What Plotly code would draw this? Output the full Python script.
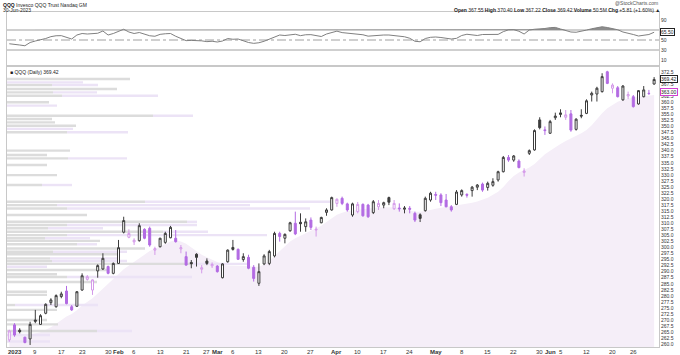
import plotly.graph_objects as go
import pandas as pd

# ---------------- data ----------------
holidays = ['2023-01-02', '2023-01-16', '2023-02-20', '2023-04-07', '2023-05-29', '2023-06-19']
dates = pd.bdate_range('2022-12-30', '2023-06-30', freq='C', holidays=holidays)
date_str = [d.strftime('%Y-%m-%d') for d in dates]

opens = [261.8, 268.0, 265.8, 262.9, 262.2, 270.0, 268.2, 272.8, 277.2, 275.5,
         279.7, 282.0, 275.5, 275.7, 282.4, 286.8, 282.4, 290.3, 291.1, 292.1,
         289.3, 293.4, 306.3, 304.2, 302.3, 302.8, 307.5, 307.9, 298.9, 300.3,
         302.1, 304.0, 303.8, 299.4, 296.2, 293.8, 297.2, 291.0, 294.4, 292.4,
         292.3, 287.5, 294.1, 300.0, 299.2, 295.0, 295.9, 291.8, 285.2, 293.2,
         293.4, 296.5, 305.8, 303.8, 306.9, 310.0, 310.4, 308.6, 311.3, 307.2,
         310.2, 314.5, 315.5, 318.2, 320.3, 318.0, 313.4, 314.8, 317.8, 317.5,
         314.4, 316.8, 317.5, 320.6, 316.0, 316.3, 315.8, 316.2, 314.1, 313.5,
         315.2, 319.6, 321.9, 321.7, 319.6, 316.8, 317.8, 321.7, 321.9, 323.5,
         324.9, 326.2, 324.8, 325.7, 327.9, 331.3, 337.2, 336.1, 335.7, 331.0,
         338.9, 340.3, 352.7, 348.6, 347.2, 353.6, 355.6, 353.8, 355.2, 348.8,
         354.6, 355.4, 363.0, 363.4, 364.4, 372.6, 365.8, 366.0, 361.0, 362.6,
         362.3, 359.3, 362.3, 363.7, 367.55]
highs = [266.0, 268.7, 266.6, 263.1, 269.3, 274.2, 272.4, 276.9, 279.0, 280.6,
         281.7, 284.1, 276.2, 282.0, 289.3, 288.6, 286.8, 293.0, 297.6, 292.5,
         293.8, 303.1, 312.7, 307.5, 303.8, 310.0, 307.9, 308.6, 300.3, 304.0,
         306.5, 308.9, 307.2, 301.0, 298.3, 294.8, 297.6, 292.7, 295.5, 293.8,
         292.7, 293.5, 299.2, 303.1, 299.6, 297.6, 297.0, 292.7, 293.4, 297.2,
         299.0, 306.5, 306.5, 305.8, 310.6, 314.8, 314.1, 312.0, 312.4, 308.6,
         312.7, 316.2, 321.0, 320.3, 321.0, 318.5, 318.5, 318.8, 318.2, 318.0,
         319.6, 319.6, 318.9, 321.0, 319.6, 318.2, 317.1, 317.1, 314.8, 314.1,
         321.0, 323.0, 323.0, 322.4, 322.1, 317.5, 323.7, 324.0, 322.4, 325.4,
         326.2, 326.8, 327.2, 328.6, 331.7, 337.8, 338.2, 338.2, 336.4, 332.7,
         340.5, 348.8, 353.8, 350.0, 352.7, 355.7, 357.1, 356.8, 356.8, 353.4,
         357.1, 361.2, 364.4, 366.4, 372.0, 373.0, 367.8, 366.7, 367.1, 364.4,
         363.0, 365.0, 366.7, 365.1, 370.40]
lows = [261.0, 263.1, 264.5, 260.4, 259.7, 268.7, 268.0, 272.4, 276.2, 275.1,
        279.0, 276.5, 273.8, 275.4, 282.1, 286.3, 280.4, 287.5, 290.7, 288.9,
        288.9, 293.2, 305.8, 303.8, 301.0, 302.4, 303.4, 300.3, 296.9, 300.0,
        301.5, 303.8, 302.0, 297.6, 292.5, 291.4, 292.1, 289.3, 292.7, 291.5,
        289.6, 287.2, 293.7, 298.7, 294.8, 294.1, 291.0, 285.9, 284.1, 292.7,
        292.7, 295.9, 302.4, 301.7, 306.5, 305.1, 306.5, 306.5, 307.2, 304.5,
        310.0, 313.1, 315.2, 316.8, 317.5, 314.8, 312.7, 314.1, 312.7, 312.2,
        313.8, 315.5, 316.2, 317.5, 315.5, 314.8, 314.1, 314.1, 310.5, 310.5,
        314.8, 318.9, 319.6, 317.1, 316.6, 314.8, 317.5, 321.0, 320.6, 321.0,
        323.7, 323.0, 323.5, 325.1, 327.2, 331.0, 335.4, 335.4, 332.7, 329.3,
        338.2, 340.0, 348.8, 346.5, 346.9, 352.7, 353.8, 352.7, 347.8, 348.3,
        353.4, 355.1, 360.3, 360.3, 364.0, 367.5, 363.7, 362.0, 360.6, 361.3,
        357.8, 359.0, 362.0, 363.0, 367.22]
closes = [265.5, 263.8, 265.2, 260.7, 268.2, 269.5, 271.8, 276.5, 278.3, 280.1,
          280.8, 276.8, 274.2, 281.7, 288.3, 287.9, 286.6, 292.5, 295.5, 289.3,
          293.4, 299.9, 311.1, 305.8, 303.0, 309.0, 303.8, 301.0, 299.5, 303.8,
          305.8, 308.3, 302.4, 299.9, 292.7, 293.3, 295.9, 291.6, 293.4, 293.0,
          290.0, 293.2, 298.9, 299.2, 295.1, 296.2, 291.4, 287.2, 290.0, 296.5,
          298.3, 305.8, 304.5, 305.4, 310.2, 305.6, 309.8, 310.6, 308.3, 307.5,
          312.4, 315.5, 320.6, 319.9, 318.2, 315.5, 318.0, 317.8, 313.1, 312.7,
          318.9, 318.2, 318.5, 318.7, 318.2, 316.0, 316.3, 315.8, 311.3, 312.0,
          320.3, 322.4, 321.6, 318.5, 316.8, 315.5, 322.9, 323.5, 321.6, 324.9,
          325.8, 323.7, 326.5, 327.2, 331.3, 337.2, 336.1, 337.8, 333.0, 331.6,
          340.0, 348.3, 349.5, 348.3, 352.0, 354.3, 355.0, 354.8, 348.5, 353.0,
          354.3, 360.6, 363.7, 365.8, 370.6, 367.8, 367.1, 362.3, 366.7, 363.2,
          358.2, 364.8, 365.1, 363.61, 369.42]
close_prior = 266.8          # close of the session before the first candle
last_volume = '50.5M'

# shaded average band (top edge of the light area)
avg_band = [265.5, 265, 264.5, 264, 264, 264.5, 265, 266, 267, 268.5,
            270, 271.5, 272.5, 274, 276, 277.5, 279, 281, 283, 285,
            287, 289, 291, 292.5, 294, 295.5, 297, 298.5, 299.5, 300.5,
            301.5, 302.5, 303, 302.5, 301.5, 300, 298.5, 297, 296, 295,
            294, 293, 292.5, 292.5, 292.5, 292.5, 292.3, 292, 292, 293,
            294.5, 296.5, 298.5, 300.5, 302.5, 303.8, 304.8, 305.7, 306.8, 308,
            309, 310.5, 312, 313.5, 314.3, 315, 315.3, 315.6, 316, 316.2,
            316.3, 316.5, 316.6, 316.8, 316.6, 316.3, 315.8, 315.3, 314.8, 314.8,
            315, 315.5, 316, 316.5, 316.8, 317, 317.3, 317.8, 318.2, 318.5,
            319, 319.7, 320.5, 321.8, 323, 325, 327.5, 329.5, 331, 332,
            333, 334.5, 336.5, 338.5, 340, 341.5, 342.8, 344, 345, 346,
            347.2, 348.5, 350.5, 353, 355.5, 357.5, 359, 360.2, 361, 361.5,
            362, 362.3, 362.5, 362.8, 363]

rsi = [42.5, 42, 40, 38.5, 45, 48, 50, 53, 56.7, 58.5,
       58.7, 55, 52, 60, 63, 62, 62, 63.5, 68, 60,
       63, 66.5, 71.5, 66, 63, 65, 61, 58.5, 57.5, 61.3,
       62.5, 63, 57.5, 53, 48.7, 49.2, 49, 48.3, 46.7, 47.5,
       46, 48, 53, 51.5, 52, 48, 45, 43.3, 44.5, 47.5,
       52, 56, 60, 59, 60.5, 61.5, 58.7, 60.5, 60.7, 58.5,
       57, 62, 65.5, 67.7, 64.8, 63.5, 63, 62.3, 60.5, 57.7,
       58.5, 60, 60, 60, 59, 58.1, 56.5, 53.5, 47.5, 46.5,
       53, 55.4, 56, 55, 53.5, 52, 53.3, 59, 61.5, 61,
       59, 61, 61, 60.8, 61.2, 66.7, 70.3, 70.6, 67.5, 62,
       70, 71.5, 72, 73, 74.7, 75.2, 72, 68.5, 66, 65.5,
       67, 69.8, 72.5, 74.5, 76.5, 75, 72.5, 70.5, 66, 64,
       61, 58, 60, 61, 65.5]

# volume-by-price bars (price level, up volume, down volume; relative units)
vbp_price = [369.6, 368.2, 367.1, 365.5, 364.1, 362.7, 360.0, 358.6, 354.4, 353.1,
             351.7, 350.3, 349.0, 347.6, 340.0, 338.2, 336.8, 334.1, 329.9, 325.8,
             318.9, 317.5, 316.1, 313.4, 310.6, 309.3, 307.9, 306.5, 305.1, 303.8,
             302.7, 301.3, 299.6, 298.2, 297.2, 295.5, 294.4, 293.2, 292.0, 290.7,
             288.9, 287.8, 285.7, 281.7, 280.4, 276.2, 274.2, 270.0, 268.2, 265.5,
             263.8, 261.1]
vbp_up = [123, 0, 45, 110, 46, 55, 42, 0, 146, 45,
          48, 69, 0, 60, 63, 40, 61, 40, 50, 35,
          138, 50, 60, 80, 180, 60, 41, 156, 60, 38,
          93, 70, 138, 46, 113, 43, 45, 186, 0, 100,
          50, 60, 90, 40, 40, 8, 50, 40, 51, 90,
          0, 0]
vbp_down = [0, 76, 46, 0, 44, 96, 0, 50, 40, 0,
            0, 0, 66, 61, 0, 0, 59, 0, 0, 30,
            185, 193, 243, 0, 10, 130, 55, 45, 200, 45,
            0, 20, 0, 74, 0, 70, 75, 57, 40, 0,
            0, 125, 0, 0, 0, 83, 0, 0, 0, 35,
            43, 43]

tick_dates = ['2023-01-03', '2023-01-09', '2023-01-17', '2023-01-23', '2023-01-30',
              '2023-02-01', '2023-02-06', '2023-02-13', '2023-02-21', '2023-02-27',
              '2023-03-01', '2023-03-06', '2023-03-13', '2023-03-20', '2023-03-27',
              '2023-04-03', '2023-04-10', '2023-04-17', '2023-04-24',
              '2023-05-01', '2023-05-08', '2023-05-15', '2023-05-22', '2023-05-30',
              '2023-06-01', '2023-06-05', '2023-06-12', '2023-06-20', '2023-06-26']
tick_labels = ['<b>2023</b>', '9', '17', '23', '30',
               '<b>Feb</b>', '6', '13', '21', '27',
               '<b>Mar</b>', '6', '13', '20', '27',
               '<b>Apr</b>', '10', '17', '24',
               '<b>May</b>', '8', '15', '22', '30',
               '<b>Jun</b>', '5', '12', '20', '26']

# ---------------- presentation ----------------
FONT = 'Liberation Sans, Arial, sans-serif'
PURPLE = '#b36be3'
PINK = '#d49ae9'
DARK = '#3c3c3c'
W, H = 680, 355
ML, MR, MT, MB = 7, 21, 12, 8
PW, PH = W - ML - MR, H - MT - MB

def px_x(x):
    return (x - ML) / PW

def px_y(y):
    return (H - MB - y) / PH

n = len(closes)
xi = list(range(n))
x_range = [-0.442, n - 1 + 0.94]
price_range = [258.86, 374.57]
rsi_range = [0, 106]
main_dom = [0, px_y(67)]
rsi_dom = [px_y(65), 1]

prev = [close_prior] + closes[:-1]
up_idx = [i for i in xi if closes[i] >= prev[i]]
dn_idx = [i for i in xi if closes[i] < prev[i]]

fig = go.Figure()

# shaded average band
fig.add_trace(go.Scatter(x=xi, y=avg_band, mode='lines', line=dict(width=0, color='#f3eaf7'),
                         fill='tozeroy', fillcolor='#f5eef8', xaxis='x', yaxis='y',
                         hoverinfo='skip'))

# volume by price bars (overlay subplot drawn above the band)
vbp_scale = 1 / 5.2
fig.add_trace(go.Bar(y=vbp_price, x=[u * vbp_scale for u in vbp_up], base=x_range[0],
                     orientation='h', width=1.0, marker=dict(color='#dcdcdc', line=dict(width=0)),
                     xaxis='x', yaxis='y3', hoverinfo='skip'))
fig.add_trace(go.Bar(y=vbp_price, x=[d * vbp_scale for d in vbp_down],
                     base=[x_range[0] + u * vbp_scale for u in vbp_up],
                     orientation='h', width=1.0, marker=dict(color='#ece3f6', line=dict(width=0)),
                     xaxis='x', yaxis='y3', hoverinfo='skip'))

# candles: close above previous close (black), below previous close (purple)
fig.add_trace(go.Candlestick(
    x=up_idx, open=[opens[i] for i in up_idx], high=[highs[i] for i in up_idx],
    low=[lows[i] for i in up_idx], close=[closes[i] for i in up_idx],
    increasing=dict(line=dict(color=DARK, width=1), fillcolor='#ffffff'),
    decreasing=dict(line=dict(color=DARK, width=1), fillcolor=DARK),
    whiskerwidth=0, xaxis='x', yaxis='y3', hoverinfo='skip'))
fig.add_trace(go.Candlestick(
    x=dn_idx, open=[opens[i] for i in dn_idx], high=[highs[i] for i in dn_idx],
    low=[lows[i] for i in dn_idx], close=[closes[i] for i in dn_idx],
    increasing=dict(line=dict(color=PINK, width=1), fillcolor='#ffffff'),
    decreasing=dict(line=dict(color=PURPLE, width=1), fillcolor=PURPLE),
    whiskerwidth=0, xaxis='x', yaxis='y3', hoverinfo='skip'))

# RSI panel
rsi_hi = [max(v, 70) for v in rsi]
fig.add_trace(go.Scatter(x=xi, y=[70] * n, mode='lines', line=dict(width=0),
                         xaxis='x2', yaxis='y2', hoverinfo='skip'))
fig.add_trace(go.Scatter(x=xi, y=rsi_hi, mode='lines', line=dict(width=0),
                         fill='tonexty', fillcolor='#8c8c8c', xaxis='x2', yaxis='y2', hoverinfo='skip'))
fig.add_trace(go.Scatter(x=xi, y=rsi, mode='lines', line=dict(color='#808080', width=1),
                         xaxis='x2', yaxis='y2', hoverinfo='skip'))

shapes = []
for lvl, dash in [(70, 'solid'), (30, 'solid'), (50, 'dashdot')]:
    shapes.append(dict(type='line', xref='x2 domain', yref='y2', x0=0, x1=1, y0=lvl, y1=lvl,
                       line=dict(color='#a0a0a0', width=1, dash=dash), layer='below'))

tickvals = [date_str.index(d) for d in tick_dates]
chg = closes[-1] - closes[-2]
chg_pct = chg / closes[-2] * 100

ann = []
# date labels along the bottom axis
for tv, tl in zip(tickvals, tick_labels):
    ann.append(dict(xref='x', yref='paper', x=tv, y=px_y(351.5), xanchor='center', yanchor='middle',
                    text=tl, showarrow=False, font=dict(size=6, color='#333', family=FONT)))
ann.append(dict(xref='paper', yref='paper', x=px_x(1), y=px_y(4.5), xanchor='left', yanchor='middle',
                text='<b>QQQ</b> Invesco QQQ Trust Nasdaq GM', showarrow=False,
                font=dict(size=5, color='#222', family=FONT)))
ann.append(dict(xref='paper', yref='paper', x=px_x(1), y=px_y(9.8), xanchor='left', yanchor='middle',
                text=dates[-1].strftime('%d-%b-%Y'), showarrow=False,
                font=dict(size=5, color='#222', family=FONT)))
ann.append(dict(xref='paper', yref='paper', x=px_x(660), y=px_y(3.2), xanchor='right', yanchor='middle',
                text='@StockCharts.com', showarrow=False, font=dict(size=5, color='#555', family=FONT)))
ann.append(dict(xref='paper', yref='paper', x=px_x(662), y=px_y(9.8), xanchor='right', yanchor='middle',
                text=(f'<b>Open</b> {opens[-1]:.2f} <b>High</b> {highs[-1]:.2f} <b>Low</b> {lows[-1]:.2f} '
                      f'<b>Close</b> {closes[-1]:.2f} <b>Volume</b> {last_volume} '
                      f'<b>Chg</b> {chg:+.2f} ({chg_pct:+.2f}%) ▲'),
                showarrow=False, font=dict(size=5, color='#222', family=FONT)))
ann.append(dict(xref='paper', yref='paper', x=px_x(8), y=px_y(72), xanchor='left', yanchor='middle',
                text=f'■ QQQ (Daily) {closes[-1]:.2f}', showarrow=False,
                font=dict(size=5, color='#222', family=FONT)))
# right-edge value tags
ann.append(dict(xref='paper', yref='y', x=1.0015, y=closes[-1], xanchor='left', yanchor='middle',
                text=f'{closes[-1]:.2f}', showarrow=False, bgcolor='#ffffff', bordercolor='#222',
                borderwidth=1, borderpad=0, font=dict(size=5, color='#222', family=FONT)))
ann.append(dict(xref='paper', yref='y', x=1.0015, y=avg_band[-1] + 1.2, xanchor='left', yanchor='middle',
                text=f'{avg_band[-1]:.2f}', showarrow=False, bgcolor='#ffffff', bordercolor='#d23fd2',
                borderwidth=1, borderpad=0, font=dict(size=5, color='#222', family=FONT)))
ann.append(dict(xref='paper', yref='y2', x=1.0015, y=rsi[-1], xanchor='left', yanchor='middle',
                text=f'{rsi[-1]:.2f}', showarrow=False, bgcolor='#ffffff', bordercolor='#222',
                borderwidth=1, borderpad=0, font=dict(size=5, color='#222', family=FONT)))

axis_common = dict(showgrid=False, zeroline=False, showline=True, linecolor='#c8c8c8',
                   linewidth=1, mirror=True, ticks='', automargin=False)

fig.update_layout(
    template='none',
    width=W, height=H, margin=dict(l=ML, r=MR, t=MT, b=MB, autoexpand=False),
    paper_bgcolor='#ffffff', plot_bgcolor='#ffffff', showlegend=False,
    barmode='overlay', boxgap=0.45, font=dict(family=FONT, size=5, color='#333'),
    xaxis=dict(domain=[0, 1], anchor='y', range=x_range, tickmode='array', tickvals=tickvals,
               showticklabels=False, rangeslider=dict(visible=False), **axis_common),
    yaxis=dict(domain=main_dom, anchor='x', side='right', range=price_range, dtick=2.5, tick0=0,
               tickformat='.1f', tickfont=dict(size=5, color='#333', family=FONT), **axis_common),
    yaxis3=dict(overlaying='y', anchor='x', side='right', range=price_range, visible=False,
                automargin=False),
    xaxis2=dict(domain=[0, 1], anchor='y2', range=x_range, showticklabels=False,
                rangeslider=dict(visible=False), **axis_common),
    yaxis2=dict(domain=rsi_dom, anchor='x2', side='right', range=rsi_range,
                tickvals=[10, 30, 50, 70, 90], tickfont=dict(size=5, color='#333', family=FONT),
                **axis_common),
    shapes=shapes, annotations=ann,
)

fig.write_html('out.html', config={'displayModeBar': False},
               post_script="document.body.style.margin='0';document.body.style.overflow='hidden';")
